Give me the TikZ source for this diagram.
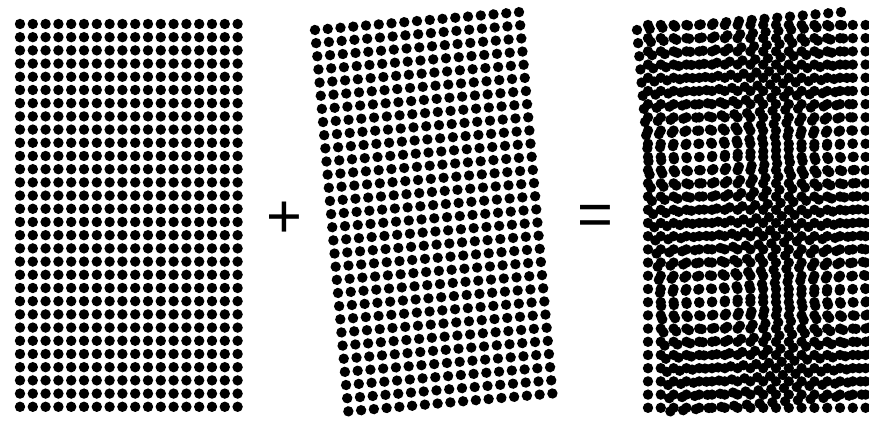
\documentclass[tikz,border=0pt]{standalone}
\usepackage{fontspec}
\setmainfont{Liberation Sans}
\usetikzlibrary{positioning}
\definecolor{InkBlack}{RGB}{0,0,0}
\tikzset{
  dot/.style={fill=InkBlack},
  sign/.style={text=InkBlack,inner sep=0pt,font=\fontsize{35}{35}\selectfont},
}

\begin{document}
\begin{tikzpicture}[x=0.02cm,y=-0.02cm]
\useasboundingbox (0,0) rectangle (869,421);
% straight grid
\begin{scope}[shift={(20,24)}]
\foreach \i in {0,...,17}
  \foreach \j in {0,...,29}
    \fill[dot] (\i*12.8,\j*13.2) circle[radius=0.104cm];
\end{scope}
% tilted grid
\begin{scope}[shift={(315,30)},rotate=5]
\foreach \i in {0,...,16}
  \foreach \j in {0,...,29}
    \fill[dot] (\i*12.8,\j*13.2) circle[radius=0.104cm];
\end{scope}
% both grids on top of each other
\begin{scope}
\clip (0,0) rectangle (869,421);
\begin{scope}[shift={(648,25)}]
\foreach \i in {0,...,17}
  \foreach \j in {0,...,29}
    \fill[dot] (\i*12.8,\j*13.2) circle[radius=0.104cm];
\end{scope}
\begin{scope}[shift={(637,30)},rotate=5]
\foreach \i in {0,...,16}
  \foreach \j in {0,...,29}
    \fill[dot] (\i*12.8,\j*13.2) circle[radius=0.104cm];
\end{scope}
\end{scope}
\node[sign] (plus) at (284,220) {+};
\node[sign] (equals) at (595,220) {=};
\end{tikzpicture}
\end{document}
